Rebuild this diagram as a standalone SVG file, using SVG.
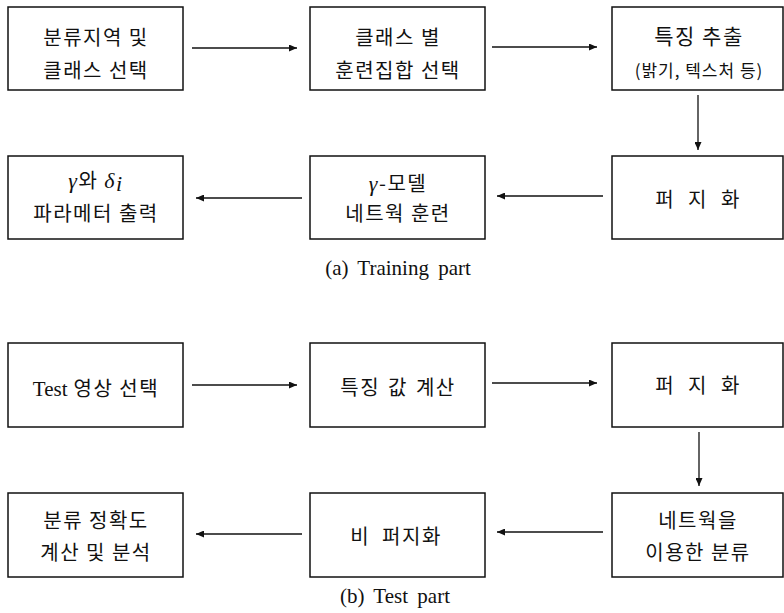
<svg xmlns="http://www.w3.org/2000/svg" width="784" height="613" viewBox="0 0 784 613">
<style>
.box{fill:#fff;stroke:#111;stroke-width:1.5}
.t{font-family:"Noto Sans CJK KR","Noto Sans",sans-serif;font-size:20px;fill:#111;text-anchor:middle;letter-spacing:1.5px}
.big{font-size:21px}
.sm{font-size:17px;letter-spacing:1px}
.g{font-family:"Liberation Serif",serif;font-style:italic;font-size:22px}
.serif{font-family:"Liberation Serif",serif;font-size:21px;letter-spacing:0}
.cap{font-family:"Liberation Serif",serif;font-size:21px;fill:#111;text-anchor:middle;word-spacing:4px}
.c{stroke:#111;stroke-width:1.3;fill:none;marker-end:url(#ah)}
</style>
<defs>
<marker id="ah" markerUnits="userSpaceOnUse" markerWidth="9" markerHeight="7" refX="8" refY="3.5" orient="auto">
<path d="M0,0 L8,3.5 L0,7 z" fill="#111"/>
</marker>
</defs>
<rect width="784" height="613" fill="#fff"/>
<g id="connectors">
<line class="c" x1="192" y1="48" x2="297" y2="48"/>
<line class="c" x1="492" y1="47" x2="597" y2="47"/>
<line class="c" x1="698" y1="95" x2="698" y2="150"/>
<line class="c" x1="603" y1="196" x2="497" y2="196"/>
<line class="c" x1="302" y1="198" x2="196" y2="198"/>
<line class="c" x1="192" y1="385" x2="297" y2="385"/>
<line class="c" x1="492" y1="383" x2="597" y2="383"/>
<line class="c" x1="699" y1="432" x2="699" y2="486"/>
<line class="c" x1="603" y1="532" x2="497" y2="532"/>
<line class="c" x1="302" y1="534" x2="196" y2="534"/>
</g>
<g id="n1"><rect class="box" x="8" y="7" width="175" height="83"/>
<text class="t" x="96" y="45">분류지역 및</text><text class="t" x="96" y="78">클래스 선택</text></g>
<g id="n2"><rect class="box" x="310" y="7" width="175" height="83"/>
<text class="t" x="398" y="45">클래스 별</text><text class="t" x="398" y="78">훈련집합 선택</text></g>
<g id="n3"><rect class="box" x="612" y="7" width="171" height="83"/>
<text class="t big" x="699" y="44">특징 추출</text><text class="t sm" x="699" y="77">(밝기, 텍스처 등)</text></g>
<g id="n4"><rect class="box" x="612" y="156" width="171" height="83"/>
<text class="t" x="698" y="207" style="word-spacing:7px">퍼 지 화</text></g>
<g id="n5"><rect class="box" x="310" y="156" width="175" height="83"/>
<text class="t" x="398" y="191"><tspan class="g">γ</tspan>-모델</text><text class="t" x="398" y="221">네트웍 훈련</text></g>
<g id="n6"><rect class="box" x="8" y="156" width="175" height="83"/>
<text class="t" x="96" y="188"><tspan class="g">γ</tspan>와 <tspan class="g">δ</tspan><tspan class="g" font-size="14" dy="3">i</tspan></text><text class="t" x="96" y="221">파라메터 출력</text></g>
<text class="cap" x="398" y="275">(a) Training part</text>
<g id="n7"><rect class="box" x="8" y="343" width="175" height="84"/>
<text class="t" x="96" y="396"><tspan class="serif">Test</tspan> 영상 선택</text></g>
<g id="n8"><rect class="box" x="310" y="343" width="175" height="84"/>
<text class="t" x="398" y="395" style="word-spacing:2px">특징 값 계산</text></g>
<g id="n9"><rect class="box" x="612" y="343" width="171" height="84"/>
<text class="t" x="698" y="393" style="word-spacing:7px">퍼 지 화</text></g>
<g id="n10"><rect class="box" x="612" y="493" width="171" height="84"/>
<text class="t" x="698" y="528">네트웍을</text><text class="t" x="698" y="560">이용한 분류</text></g>
<g id="n11"><rect class="box" x="310" y="493" width="175" height="84"/>
<text class="t" x="396" y="544" style="word-spacing:6px">비 퍼지화</text></g>
<g id="n12"><rect class="box" x="8" y="493" width="175" height="84"/>
<text class="t" x="96" y="528">분류 정확도</text><text class="t" x="96" y="560">계산 및 분석</text></g>
<text class="cap" x="395" y="603">(b) Test part</text>
</svg>
